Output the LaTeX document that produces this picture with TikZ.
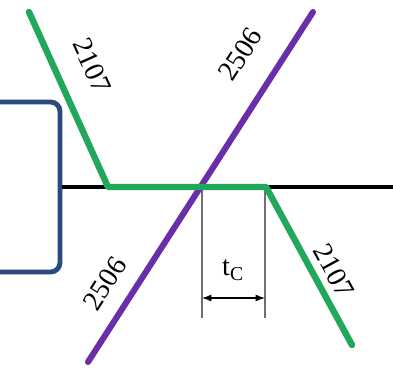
\documentclass[tikz,border=0pt]{standalone}
\usepackage{fontspec}
\setmainfont{Liberation Serif}
\usetikzlibrary{arrows.meta}
\definecolor{boxblue}{HTML}{2B4A80}
\definecolor{curvegreen}{HTML}{22A85A}
\definecolor{curvepurple}{HTML}{6A2EA8}
\definecolor{dimgrey}{HTML}{707070}

\begin{document}
\begin{tikzpicture}[
  x=0.03cm,
  y=0.03cm,
  every node/.style={font=\fontsize{24}{28}\selectfont, black},
  block/.style={draw=boxblue, line width=4.2pt, rounded corners=8pt,
                minimum width=160*0.03cm, minimum height=170*0.03cm},
  baseline/.style={black, line width=3.4pt},
  greenline/.style={curvegreen, line width=5.5pt, line cap=round, line join=round},
  purpleline/.style={curvepurple, line width=5.2pt, line cap=round},
  dimline/.style={dimgrey, line width=1.3pt},
  dimarrow/.style={black, line width=1pt, {Latex[length=8pt,width=6pt]}-{Latex[length=8pt,width=6pt]}},
  curvelab/.style={sloped, inner sep=0pt}
]
  \useasboundingbox (0,0) rectangle (393,368);
  \clip (0,0) rectangle (393,368);

  % ---- block and horizontal line ----
  \node[block] (blk) at (-20,181) {};
  \coordinate (lineend) at (400,181);
  \draw[baseline] (blk.east) -- (lineend);

  % ---- dimension t_C ----
  \coordinate (dimLtop) at (202,181);
  \coordinate (dimLbot) at (202,50);
  \coordinate (dimRtop) at (265,181);
  \coordinate (dimRbot) at (265,50);
  \draw[dimline] (dimLtop) -- (dimLbot);
  \draw[dimline] (dimRtop) -- (dimRbot);
  \coordinate (arrL) at (202,70);
  \coordinate (arrR) at (265,70);
  \draw[dimarrow] (arrL) -- (arrR);
  \node (tc) at (233,98) {t\textsubscript{C}};

  % ---- 2506 ----
  \coordinate (p1) at (88,6);
  \coordinate (p2) at (313,356);
  \draw[purpleline] (p1) -- node[curvelab, pos=0.18, above=13.4pt] (lab2506a) {2506}
                           node[curvelab, pos=0.82, above=22pt] (lab2506b) {2506} (p2);

  % ---- 2107 ----
  \coordinate (g1) at (29,356);
  \coordinate (g2) at (108,181);
  \coordinate (g3) at (266,181);
  \coordinate (g4) at (352,23);
  \draw[greenline] (g1) -- node[curvelab, pos=0.39, above=19.4pt] (lab2107a) {2107}
                   (g2) -- (g3)
                        -- node[curvelab, pos=0.59, above=6pt] (lab2107b) {2107} (g4);
\end{tikzpicture}
\end{document}
